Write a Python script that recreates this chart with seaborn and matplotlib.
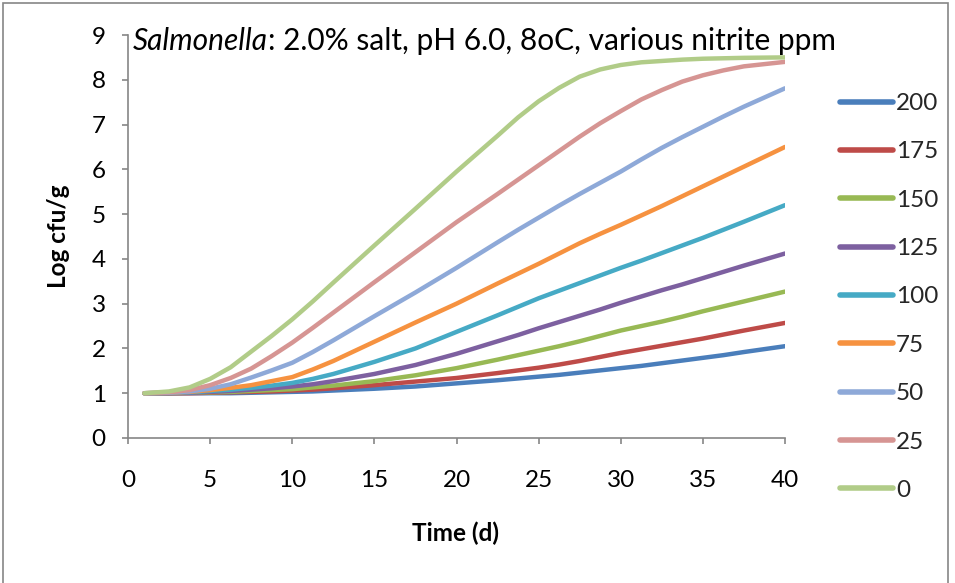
import matplotlib
matplotlib.use("Agg")
import matplotlib.pyplot as plt
import seaborn as sns
import pandas as pd
from matplotlib.patches import Rectangle

days = [1, 2.5, 3.75, 5, 6.25, 7.5, 8.75, 10, 11.25, 12.5, 15, 17.5, 20, 22.5, 23.75,
        25, 26.25, 27.5, 28.75, 30, 31.25, 32.5, 33.75, 35, 36.25, 37.5, 40]

s200 = [1.00, 1.00, 1.00, 1.00, 1.00, 1.01, 1.02, 1.03, 1.04, 1.06, 1.10, 1.15, 1.22, 1.29, 1.33,
        1.37, 1.41, 1.46, 1.51, 1.56, 1.61, 1.67, 1.73, 1.79, 1.85, 1.92, 2.05]
s175 = [1.00, 1.00, 1.00, 1.01, 1.02, 1.03, 1.04, 1.06, 1.08, 1.11, 1.18, 1.26, 1.34, 1.45, 1.51,
        1.57, 1.64, 1.72, 1.81, 1.90, 1.98, 2.06, 2.14, 2.22, 2.31, 2.40, 2.57]
s150 = [1.00, 1.00, 1.01, 1.02, 1.03, 1.05, 1.07, 1.09, 1.13, 1.17, 1.27, 1.40, 1.56, 1.75, 1.85,
        1.95, 2.05, 2.16, 2.28, 2.40, 2.50, 2.60, 2.71, 2.83, 2.94, 3.05, 3.27]
s125 = [1.00, 1.00, 1.01, 1.03, 1.05, 1.08, 1.11, 1.15, 1.20, 1.27, 1.43, 1.63, 1.88, 2.16, 2.30,
        2.45, 2.59, 2.73, 2.87, 3.02, 3.16, 3.30, 3.43, 3.57, 3.71, 3.85, 4.12]
s100 = [1.00, 1.01, 1.02, 1.05, 1.08, 1.12, 1.17, 1.23, 1.32, 1.43, 1.70, 2.00, 2.37, 2.74, 2.93,
        3.12, 3.29, 3.46, 3.63, 3.80, 3.96, 4.13, 4.30, 4.47, 4.65, 4.83, 5.20]
s75 = [1.00, 1.01, 1.03, 1.07, 1.12, 1.18, 1.27, 1.36, 1.53, 1.72, 2.15, 2.58, 3.00, 3.45, 3.67,
       3.89, 4.12, 4.35, 4.56, 4.76, 4.97, 5.18, 5.40, 5.62, 5.84, 6.06, 6.50]
s50 = [1.00, 1.01, 1.04, 1.10, 1.20, 1.35, 1.51, 1.68, 1.92, 2.18, 2.72, 3.25, 3.80, 4.37, 4.65,
       4.92, 5.19, 5.45, 5.70, 5.95, 6.22, 6.48, 6.72, 6.95, 7.18, 7.40, 7.81]
s25 = [1.00, 1.02, 1.07, 1.18, 1.34, 1.55, 1.83, 2.13, 2.46, 2.80, 3.48, 4.15, 4.82, 5.45, 5.77,
       6.09, 6.41, 6.73, 7.03, 7.30, 7.56, 7.77, 7.96, 8.10, 8.21, 8.30, 8.40]
s0 = [1.00, 1.04, 1.13, 1.32, 1.58, 1.93, 2.28, 2.65, 3.05, 3.47, 4.30, 5.12, 5.95, 6.75, 7.16,
      7.52, 7.82, 8.07, 8.23, 8.33, 8.39, 8.42, 8.45, 8.47, 8.48, 8.49, 8.50]

series_labels = ["200", "175", "150", "125", "100", "75", "50", "25", "0"]
series_values = [s200, s175, s150, s125, s100, s75, s50, s25, s0]
colors = ["#4A7EBB", "#BE4B48", "#98B954", "#7D60A0", "#46AAC5", "#F69240",
          "#8EA9D8", "#D69593", "#B1CC88"]

x_ticks = [0, 5, 10, 15, 20, 25, 30, 35, 40]
y_ticks = [0, 1, 2, 3, 4, 5, 6, 7, 8, 9]

rows = []
for lab, vals in zip(series_labels, series_values):
    for d, v in zip(days, vals):
        rows.append({"Time": d, "Log": v, "ppm": lab})
df = pd.DataFrame(rows)

sns.set_theme(style="white")
plt.rcParams["font.family"] = ["Lato", "DejaVu Sans"]

W, H = 955, 583
fig = plt.figure(figsize=(W / 100, H / 100), dpi=100)
ax = fig.add_axes([128 / W, 1 - 438 / H, (785 - 128) / W, (438 - 35) / H])

sns.lineplot(data=df, x="Time", y="Log", hue="ppm", hue_order=series_labels,
             palette=colors, linewidth=3.2, ax=ax, sort=False, legend=True)
for ln in ax.get_lines():
    ln.set_solid_joinstyle("round")
    ln.set_solid_capstyle("round")

ax.set_xlim(0, 40)
ax.set_ylim(0, 9)
ax.set_xticks(x_ticks)
ax.set_yticks(y_ticks)
ax.set_xticklabels([str(t) for t in x_ticks])
ax.set_yticklabels([str(t) for t in y_ticks])

gray = "#868686"
for s in ["top", "right"]:
    ax.spines[s].set_visible(False)
for s in ["left", "bottom"]:
    ax.spines[s].set_color(gray)
    ax.spines[s].set_linewidth(1.2)
ax.tick_params(axis="both", which="major", direction="out", length=4, width=1.2,
               color=gray, bottom=True, left=True, labelsize=17.5, labelcolor="black")
ax.tick_params(axis="x", pad=19)
ax.tick_params(axis="y", pad=12)

ax.set_xlabel("Time (d)", fontsize=17.5, fontweight="bold", color="black")
ax.set_ylabel("Log cfu/g", fontsize=17.5, fontweight="bold", color="black")
ax.xaxis.label.set_va("center")
ax.yaxis.label.set_va("center")
ax.xaxis.set_label_coords((455 - 128) / 657, (438 - 533) / 403)
ax.yaxis.set_label_coords((58 - 128) / 657, (438 - 236) / 403)

handles, labels = ax.get_legend_handles_labels()
leg = ax.legend(handles, labels, loc="upper left",
                bbox_to_anchor=(840 / W, 1 - 93 / H), bbox_transform=fig.transFigure,
                frameon=False, fontsize=17.5, handlelength=2.18, handletextpad=0.12,
                labelspacing=1.125, borderaxespad=0, borderpad=0)
for lh in leg.get_lines():
    lh.set_linewidth(4)

# title: italic genus name, then regular text
fig.canvas.draw()
renderer = fig.canvas.get_renderer()
t1 = fig.text(133 / W, 1 - 50 / H, "Salmonella", fontsize=21.5, style="italic",
              ha="left", va="baseline", color="black")
bb = t1.get_window_extent(renderer=renderer)
fig.text(bb.x1 / W, 1 - 50 / H, ": 2.0% salt, pH 6.0, 8oC, various nitrite ppm",
         fontsize=21.5, ha="left", va="baseline", color="black")

fig.patches.append(Rectangle((3 / W, -0.02), (948 - 3) / W, 1 - 3 / H + 0.02,
                             transform=fig.transFigure, fill=False,
                             edgecolor=gray, linewidth=1.2))

fig.savefig("out.png", dpi=100)
